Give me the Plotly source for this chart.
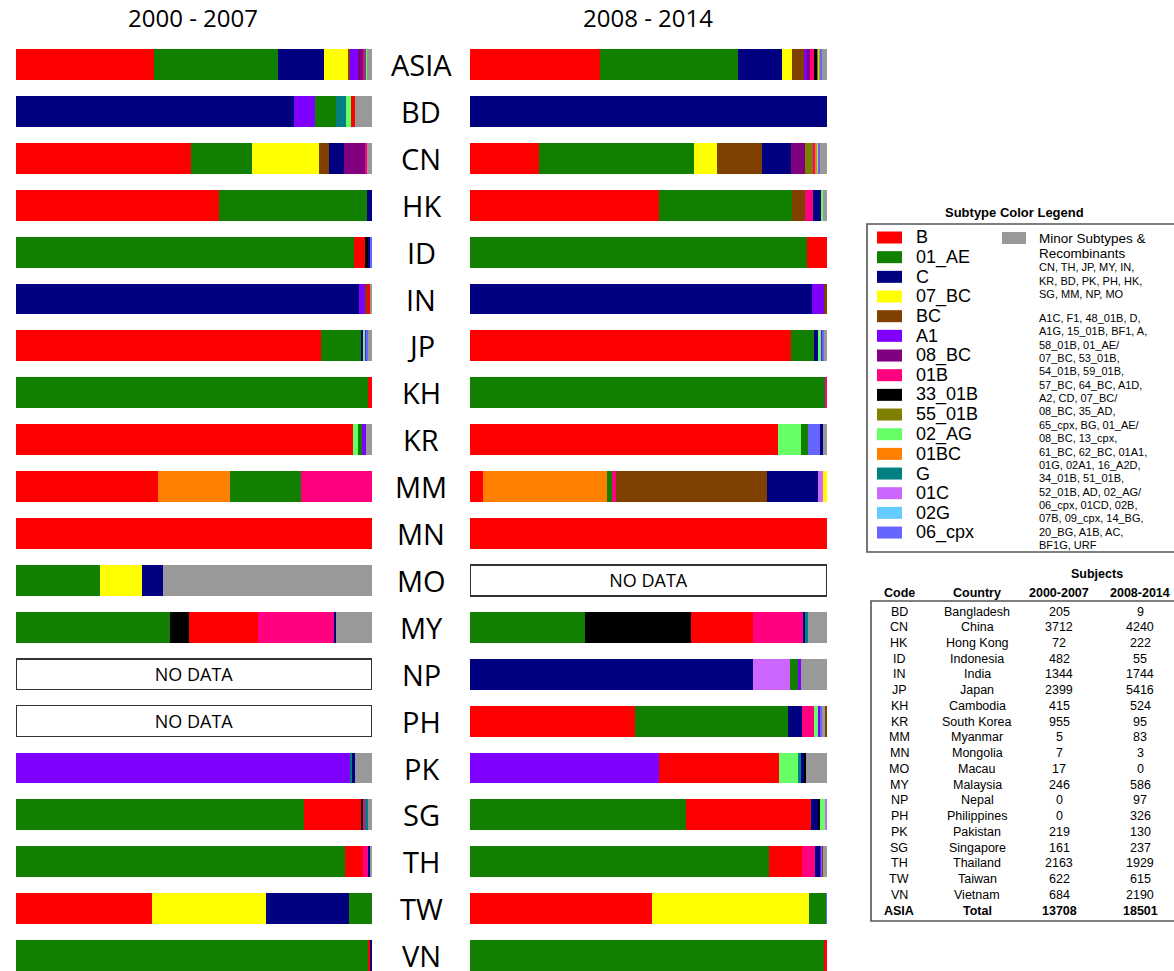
import plotly.graph_objects as go

W, H = 1174, 971

# Row order, top to bottom
countries = ["ASIA", "BD", "CN", "HK", "ID", "IN", "JP", "KH", "KR", "MM",
             "MN", "MO", "MY", "NP", "PH", "PK", "SG", "TH", "TW", "VN"]

# Subtype palette (legend order)
subtypes = ["B", "01_AE", "C", "07_BC", "BC", "A1", "08_BC", "01B", "33_01B",
            "55_01B", "02_AG", "01BC", "G", "01C", "02G", "06_cpx"]
subtype_colors = ["#FF0000", "#118000", "#000080", "#FFFF00", "#804000",
                  "#8000FF", "#800080", "#FF0080", "#000000", "#808000",
                  "#66FF66", "#FF8000", "#008080", "#CC66FF", "#66CCFF",
                  "#6666FF"]
minor_color = "#999999"
color_of = dict(zip(subtypes, subtype_colors))
color_of["Minor"] = minor_color

# Subtype composition (% of subjects), 2000-2007, segments left to right
period_2000 = {
    "ASIA": [("B", 38.7), ("01_AE", 34.8), ("C", 13.1), ("07_BC", 6.6), ("BC", 0.75),
             ("A1", 2.1), ("08_BC", 1.5), ("01B", 0.6), ("G", 0.3), ("02_AG", 0.2),
             ("Minor", 1.35)],
    "BD": [("C", 78.0), ("A1", 6.0), ("01_AE", 5.8), ("G", 2.9), ("02_AG", 1.4),
           ("B", 1.0), ("Minor", 4.9)],
    "CN": [("B", 49.1), ("01_AE", 17.1), ("07_BC", 18.8), ("BC", 2.8), ("C", 4.2),
           ("08_BC", 6.1), ("01B", 0.5), ("Minor", 1.4)],
    "HK": [("B", 57.1), ("01_AE", 41.6), ("C", 1.3)],
    "ID": [("01_AE", 94.9), ("B", 3.0), ("33_01B", 1.2), ("C", 0.5), ("06_cpx", 0.4)],
    "IN": [("C", 96.4), ("A1", 1.6), ("BC", 0.6), ("B", 0.8), ("Minor", 0.6)],
    "JP": [("B", 85.8), ("01_AE", 11.0), ("C", 0.9), ("02_AG", 0.4), ("A1", 0.4),
           ("06_cpx", 0.3), ("Minor", 1.2)],
    "KH": [("01_AE", 98.8), ("B", 1.2)],
    "KR": [("B", 94.8), ("02_AG", 1.2), ("01_AE", 1.2), ("A1", 1.2), ("Minor", 1.6)],
    "MM": [("B", 40.0), ("01BC", 20.0), ("01_AE", 20.0), ("01B", 20.0)],
    "MN": [("B", 100.0)],
    "MO": [("01_AE", 23.5), ("07_BC", 11.8), ("C", 5.9), ("Minor", 58.8)],
    "MY": [("01_AE", 43.3), ("33_01B", 5.2), ("B", 19.5), ("01B", 21.6), ("C", 0.4),
           ("Minor", 10.0)],
    "PK": [("A1", 94.0), ("G", 0.5), ("C", 0.6), ("Minor", 4.9)],
    "SG": [("01_AE", 80.8), ("B", 16.2), ("33_01B", 0.5), ("01B", 0.6), ("G", 0.7),
           ("Minor", 1.2)],
    "TH": [("01_AE", 92.3), ("B", 5.1), ("01B", 1.7), ("C", 0.4), ("Minor", 0.5)],
    "TW": [("B", 38.3), ("07_BC", 31.8), ("C", 23.4), ("01_AE", 6.5)],
    "VN": [("01_AE", 98.8), ("B", 0.8), ("C", 0.4)],
}

# Subtype composition (% of subjects), 2008-2014
period_2008 = {
    "ASIA": [("B", 36.5), ("01_AE", 38.7), ("C", 12.1), ("07_BC", 3.0), ("BC", 3.2),
             ("A1", 0.8), ("08_BC", 0.9), ("01B", 1.2), ("33_01B", 0.9), ("55_01B", 0.4),
             ("02_AG", 0.3), ("01BC", 0.3), ("06_cpx", 0.3), ("Minor", 1.4)],
    "BD": [("C", 100.0)],
    "CN": [("B", 19.4), ("01_AE", 43.4), ("07_BC", 6.4), ("BC", 12.7), ("C", 8.0),
           ("08_BC", 3.8), ("55_01B", 2.3), ("01B", 0.7), ("01BC", 0.6), ("02_AG", 0.4),
           ("06_cpx", 0.3), ("Minor", 2.0)],
    "HK": [("B", 52.9), ("01_AE", 37.3), ("BC", 3.5), ("01B", 2.5), ("C", 2.2),
           ("02_AG", 0.5), ("Minor", 1.1)],
    "ID": [("01_AE", 94.5), ("B", 5.5)],
    "IN": [("C", 95.8), ("A1", 3.3), ("BC", 0.9)],
    "JP": [("B", 89.8), ("01_AE", 6.6), ("C", 1.3), ("02_AG", 0.5), ("A1", 0.6),
           ("06_cpx", 0.3), ("Minor", 0.9)],
    "KH": [("01_AE", 99.6), ("01B", 0.4)],
    "KR": [("B", 86.3), ("02_AG", 6.3), ("01_AE", 2.1), ("06_cpx", 3.2), ("C", 1.05),
           ("Minor", 1.05)],
    "MM": [("B", 3.6), ("01BC", 34.9), ("01_AE", 1.2), ("01B", 1.2), ("BC", 42.2),
           ("C", 14.5), ("01C", 1.2), ("07_BC", 1.2)],
    "MN": [("B", 100.0)],
    "MY": [("01_AE", 32.3), ("33_01B", 29.6), ("B", 17.5), ("01B", 14.0), ("C", 0.7),
           ("G", 0.5), ("Minor", 5.4)],
    "NP": [("C", 79.4), ("01C", 10.3), ("01_AE", 2.1), ("A1", 1.0), ("Minor", 7.2)],
    "PH": [("B", 46.1), ("01_AE", 43.1), ("C", 3.9), ("01B", 3.3), ("02_AG", 1.2),
           ("A1", 0.5), ("06_cpx", 0.6), ("Minor", 0.9), ("BC", 0.4)],
    "PK": [("A1", 52.9), ("B", 33.6), ("02_AG", 5.3), ("G", 0.8), ("C", 0.9),
           ("33_01B", 0.6), ("Minor", 5.9)],
    "SG": [("01_AE", 60.5), ("B", 35.1), ("C", 1.8), ("33_01B", 0.7), ("02_AG", 1.2),
           ("01C", 0.7)],
    "TH": [("01_AE", 83.8), ("B", 9.3), ("01B", 3.4), ("C", 1.6), ("A1", 0.3),
           ("06_cpx", 0.3), ("BC", 0.3), ("Minor", 1.0)],
    "TW": [("B", 51.0), ("07_BC", 43.9), ("01_AE", 4.9), ("06_cpx", 0.2)],
    "VN": [("01_AE", 99.1), ("B", 0.9)],
}

# Subjects per country
table_codes = ["BD", "CN", "HK", "ID", "IN", "JP", "KH", "KR", "MM", "MN",
               "MO", "MY", "NP", "PH", "PK", "SG", "TH", "TW", "VN", "ASIA"]
table_names = ["Bangladesh", "China", "Hong Kong", "Indonesia", "India", "Japan",
               "Cambodia", "South Korea", "Myanmar", "Mongolia", "Macau",
               "Malaysia", "Nepal", "Philippines", "Pakistan", "Singapore",
               "Thailand", "Taiwan", "Vietnam", "Total"]
subjects_2000 = [205, 3712, 72, 482, 1344, 2399, 415, 955, 5, 7,
                 17, 246, 0, 0, 219, 161, 2163, 622, 684, 13708]
subjects_2008 = [9, 4240, 222, 55, 1744, 5416, 524, 95, 83, 3,
                 0, 586, 97, 326, 130, 237, 1929, 615, 2190, 18501]

minor_lines_1 = ["CN, TH, JP, MY, IN,", "KR, BD, PK, PH, HK,", "SG, MM, NP, MO"]
minor_lines_2 = ["A1C, F1, 48_01B, D,", "A1G, 15_01B, BF1, A,", "58_01B, 01_AE/",
                 "07_BC, 53_01B,", "54_01B, 59_01B,", "57_BC, 64_BC, A1D,",
                 "A2, CD, 07_BC/", "08_BC, 35_AD,", "65_cpx, BG, 01_AE/",
                 "08_BC, 13_cpx,", "61_BC, 62_BC, 01A1,", "01G, 02A1, 16_A2D,",
                 "34_01B, 51_01B,", "52_01B, AD, 02_AG/", "06_cpx, 01CD, 02B,",
                 "07B, 09_cpx, 14_BG,", "20_BG, A1B, AC,", "BF1G, URF"]

LABEL_FONT = "Open Sans"
TEXT_FONT = "Arial, Liberation Sans"


def px(x):
    return x / W


def py(y):
    return 1 - y / H


def text_at(x, y, text, size, family=TEXT_FONT, anchor="center"):
    return dict(x=px(x), y=py(y), xref="paper", yref="paper", text=text,
                xanchor=anchor, yanchor="middle", showarrow=False,
                font=dict(family=family, size=size, color="black"))


fig = go.Figure()


def add_panel(data, xa, ya):
    rows = [c for c in countries if c in data]
    nseg = max(len(data[c]) for c in rows)
    for k in range(nseg):
        xs, cols, names = [], [], []
        for c in rows:
            segs = data[c]
            if k < len(segs):
                xs.append(segs[k][1])
                cols.append(color_of[segs[k][0]])
                names.append(segs[k][0])
            else:
                xs.append(0)
                cols.append("rgba(0,0,0,0)")
                names.append("")
        fig.add_trace(go.Bar(
            y=rows, x=xs, orientation="h", xaxis=xa, yaxis=ya,
            marker=dict(color=cols, line=dict(width=0)),
            customdata=names, hovertemplate="%{y}: %{customdata} %{x}%<extra></extra>",
            showlegend=False,
        ))
    missing = [c for c in countries if c not in data]
    if missing:
        fig.add_trace(go.Bar(
            y=missing, x=[100] * len(missing), orientation="h", xaxis=xa, yaxis=ya,
            marker=dict(color="white", line=dict(color="#333333", width=1.6)),
            text=["NO DATA"] * len(missing), textposition="inside",
            insidetextanchor="middle", textangle=0,
            textfont=dict(family=LABEL_FONT, size=18, color="black"),
            hoverinfo="skip", showlegend=False,
        ))


add_panel(period_2000, "x", "y")
add_panel(period_2008, "x2", "y2")

row_step = 46.9
first_row = 64.5
y_top = -first_row / row_step
y_bot = (H - first_row) / row_step
yax = dict(type="category", categoryorder="array", categoryarray=countries,
           range=[y_bot, y_top], showticklabels=False, showgrid=False,
           zeroline=False, showline=False, domain=[0, 1])
xax = dict(range=[0, 100], showticklabels=False, showgrid=False, zeroline=False,
           showline=False, fixedrange=True)

fig.update_layout(
    width=W, height=H, margin=dict(l=0, r=0, t=0, b=0),
    paper_bgcolor="white", plot_bgcolor="white",
    barmode="stack", bargap=0.34,
    xaxis=dict(domain=[px(16), px(372)], anchor="y", **xax),
    xaxis2=dict(domain=[px(470), px(827)], anchor="y2", **xax),
    yaxis=dict(anchor="x", **yax),
    yaxis2=dict(anchor="x2", **yax),
)

ann = []
shapes = []

# Panel titles
ann.append(text_at(193, 18, "2000 - 2007", 24, LABEL_FONT))
ann.append(text_at(648, 18, "2008 - 2014", 24, LABEL_FONT))

# Country codes between the two panels
for c in countries:
    ann.append(dict(x=px(421), y=c, xref="paper", yref="y", text=c, showarrow=False,
                    xanchor="center", yanchor="middle",
                    font=dict(family=LABEL_FONT, size=29, color="black")))

# Subtype color legend
ann.append(text_at(1015, 213, "<b>Subtype Color Legend</b>", 13))
shapes.append(dict(type="rect", xref="paper", yref="paper", x0=px(867), x1=px(1180),
                   y0=py(552), y1=py(224), line=dict(color="#555555", width=1.6)))
leg_y0, leg_step = 237.5, 19.67
for i, (s, col) in enumerate(zip(subtypes, subtype_colors)):
    yc = leg_y0 + i * leg_step
    shapes.append(dict(type="rect", xref="paper", yref="paper", x0=px(877), x1=px(902),
                       y0=py(yc + 6), y1=py(yc - 6), fillcolor=col,
                       line=dict(width=0)))
    ann.append(text_at(914, yc, s, 18, anchor="left"))
shapes.append(dict(type="rect", xref="paper", yref="paper", x0=px(1002), x1=px(1026),
                   y0=py(244), y1=py(232), fillcolor=minor_color, line=dict(width=0)))
ann.append(text_at(1037, 238, "Minor Subtypes &", 13.5, anchor="left"))
ann.append(text_at(1037, 254, "Recombinants", 13.5, anchor="left"))
for i, t in enumerate(minor_lines_1):
    ann.append(text_at(1037, 267 + i * 13.5, t, 11, anchor="left"))
for i, t in enumerate(minor_lines_2):
    ann.append(text_at(1037, 318 + i * 13.35, t, 11, anchor="left"))

# Subjects table
col_x = [899, 977, 1059, 1140]
ann.append(text_at(1097, 574, "<b>Subjects</b>", 12.5))
for xc, h in zip(col_x, ["Code", "Country", "2000-2007", "2008-2014"]):
    ann.append(text_at(xc, 593, "<b>" + h + "</b>", 12.5))
shapes.append(dict(type="rect", xref="paper", yref="paper", x0=px(871), x1=px(1180),
                   y0=py(921), y1=py(601), line=dict(color="#555555", width=1.6)))
tab_y0, tab_step = 611.5, 15.74
for i in range(len(table_codes)):
    vals = [table_codes[i], table_names[i], str(subjects_2000[i]), str(subjects_2008[i])]
    last = i == len(table_codes) - 1
    for xc, v in zip(col_x, vals):
        ann.append(text_at(xc, tab_y0 + i * tab_step,
                           ("<b>" + v + "</b>") if last else v, 12.5))

fig.update_layout(annotations=ann, shapes=shapes)
fig.write_html("out.html")
